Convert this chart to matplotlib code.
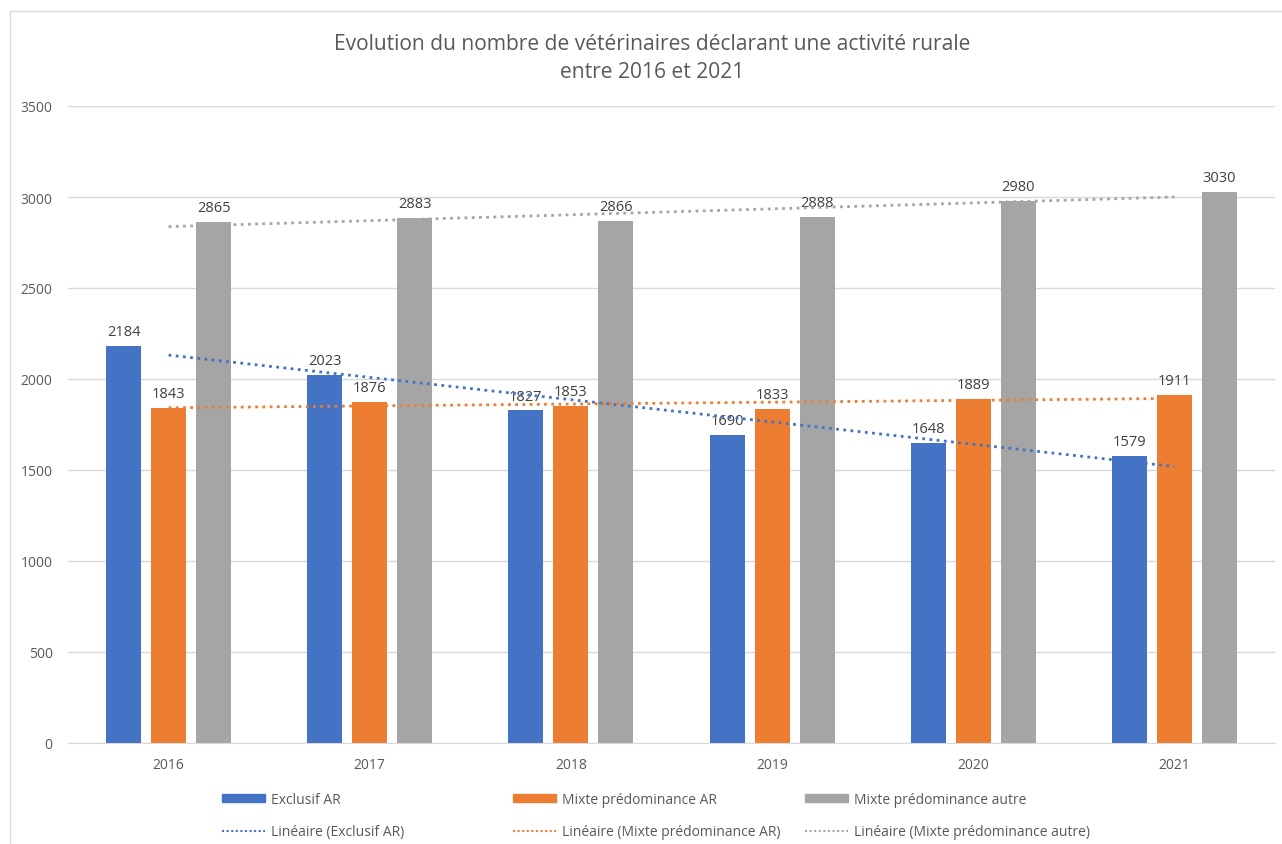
import numpy as np
import matplotlib.pyplot as plt
from matplotlib.patches import Rectangle
from matplotlib.lines import Line2D
from matplotlib.patches import Patch

plt.rcParams['font.family'] = ['Open Sans', 'DejaVu Sans']

annees = ["2016", "2017", "2018", "2019", "2020", "2021"]
exclusif_ar = [2184, 2023, 1827, 1690, 1648, 1579]
mixte_ar = [1843, 1876, 1853, 1833, 1889, 1911]
mixte_autre = [2865, 2883, 2866, 2888, 2980, 3030]

series = [
    ("Exclusif AR", exclusif_ar, "#4472C4"),
    ("Mixte prédominance AR", mixte_ar, "#ED7D31"),
    ("Mixte prédominance autre", mixte_autre, "#A5A5A5"),
]

W, H = 1282, 845
fig = plt.figure(figsize=(W / 100, H / 100), dpi=100)
ax = fig.add_axes([68 / W, 1 - 744 / H, (1275 - 68) / W, (744 - 107) / H])

# cadre du graphique (coupé à droite et en bas)
fig.patches.append(Rectangle((10 / W, -0.01), 1.1, 1 - 12 / H + 0.01,
                             transform=fig.transFigure, fill=False,
                             edgecolor="#d9d9d9", linewidth=1))

x = np.arange(len(annees))
largeur = 0.174
decal = 0.224
txt_col = "#595959"

for i, (nom, vals, col) in enumerate(series):
    pos = x + (i - 1) * decal
    ax.bar(pos, vals, width=largeur, color=col, zorder=2)
    for p, v in zip(pos, vals):
        ax.annotate(str(v), (p, v), xytext=(0, 5), textcoords="offset points",
                    ha="center", va="bottom", fontsize=10.5, color="#404040")
    # courbe de tendance linéaire
    a, b = np.polyfit(x + 1, vals, 1)
    ax.plot(x, a * (x + 1) + b, linestyle=(0, (1, 1.6)), color=col,
            linewidth=2, zorder=3)

ax.set_xlim(-0.5, len(annees) - 0.5)
ax.set_ylim(0, 3500)
ax.set_yticks(np.arange(0, 3501, 500))
ax.set_xticks(x)
ax.set_xticklabels(annees)
ax.yaxis.grid(True, color="#d9d9d9", linewidth=1, zorder=0)
ax.set_axisbelow(True)
for s in ["top", "right", "left"]:
    ax.spines[s].set_visible(False)
ax.spines["bottom"].set_color("#d9d9d9")
ax.tick_params(axis="both", length=0, colors=txt_col, labelsize=10)
ax.tick_params(axis="y", pad=11)
ax.tick_params(axis="x", pad=10)

fig.text(652 / W, 1 - 44 / H, "Evolution du nombre de vétérinaires déclarant une activité rurale",
         ha="center", va="center", fontsize=15.1, color=txt_col)
fig.text(652 / W, 1 - 73 / H, "entre 2016 et 2021",
         ha="center", va="center", fontsize=15.1, color=txt_col)

# légende en trois colonnes
x_leg = [222, 513, 805]
for xl, (nom, vals, col) in zip(x_leg, series):
    h = [Patch(facecolor=col, edgecolor=col),
         Line2D([0], [0], color=col, linestyle=(0, (1, 1.2)), linewidth=1.5)]
    lab = [nom, "Linéaire (" + nom + ")"]
    fig.legend(h, lab, loc="upper left", bbox_to_anchor=(xl / W, 1 - 793 / H),
               frameon=False, fontsize=10, labelcolor=txt_col,
               handlelength=3.1, handleheight=0.5, handletextpad=0.4,
               labelspacing=1.25, borderaxespad=0, borderpad=0)

fig.savefig("out.png", dpi=100)
